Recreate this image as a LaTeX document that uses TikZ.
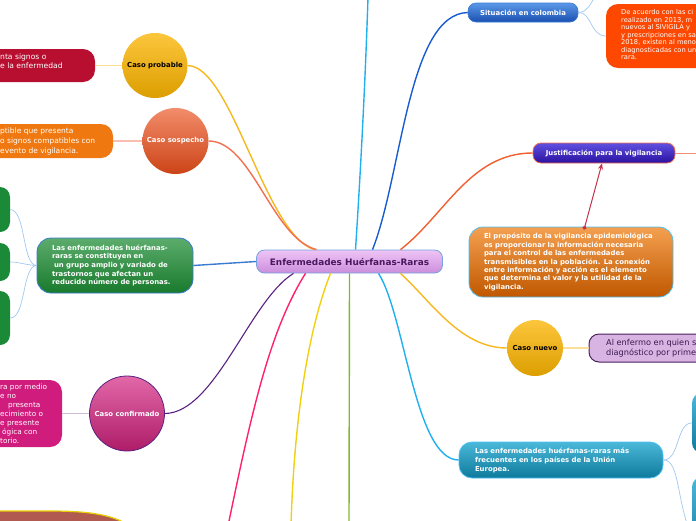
\documentclass[tikz,border=0pt]{standalone}
\usepackage{fontspec}
\setmainfont{DejaVu Sans}
\usetikzlibrary{arrows.meta}
\definecolor{cgold}{HTML}{F5B820}
\definecolor{ccoral}{HTML}{F07050}
\definecolor{ccyan}{HTML}{20B0F0}
\definecolor{cblue}{HTML}{1A5CD0}
\definecolor{cblue2}{HTML}{3A7AD0}
\definecolor{cred}{HTML}{F06030}
\definecolor{cpurple}{HTML}{5A2080}
\definecolor{cpink}{HTML}{FF2070}
\definecolor{cyellow}{HTML}{F0D010}
\definecolor{cgreen}{HTML}{80B830}
\definecolor{csub}{HTML}{A0C8F0}
\definecolor{ctitle}{HTML}{4A1860}
\definecolor{clavtxt}{HTML}{3A1A50}
\definecolor{carrow}{HTML}{C8304A}
\definecolor{ctitletop}{HTML}{EEC4F6}
\definecolor{ctitlebot}{HTML}{CC8EDC}
\definecolor{cgoldtop}{HTML}{FCC63C}
\definecolor{cgoldbot}{HTML}{DC9E00}
\definecolor{csosptop}{HTML}{F28C6A}
\definecolor{csospbot}{HTML}{CC4418}
\definecolor{cconftop}{HTML}{E268A8}
\definecolor{cconfbot}{HTML}{AE1C68}
\definecolor{cgrtop}{HTML}{5CAC6C}
\definecolor{cgrbot}{HTML}{187A2C}
\definecolor{csittop}{HTML}{5A98E8}
\definecolor{csitbot}{HTML}{1A4FB0}
\definecolor{cjtop}{HTML}{6050E0}
\definecolor{cjbot}{HTML}{2A10A0}
\definecolor{cortop}{HTML}{F4A050}
\definecolor{corbot}{HTML}{C05800}
\definecolor{cteatop}{HTML}{4AB8D8}
\definecolor{cteabot}{HTML}{0E7A9C}
\definecolor{ccrim}{HTML}{B80E30}
\definecolor{corange}{HTML}{F07810}
\definecolor{cmag}{HTML}{D01C7C}
\definecolor{csitor}{HTML}{FE4800}
\definecolor{clav}{HTML}{D8B4E2}
\definecolor{clavbd}{HTML}{4A2060}
\definecolor{cdkgreen}{HTML}{1A8A38}
\definecolor{cbrown}{HTML}{B05A50}
\definecolor{cbrownbd}{HTML}{E8D000}
\newcommand{\myfb}{\fontsize{6.9}{8.7}\selectfont\bfseries}
\begin{document}
\begin{tikzpicture}[x=1pt,y=-1pt,
  lk/.style={line width=1.4pt},
  sublk/.style={line width=0.7pt, draw=csub},
  rbox/.style={rectangle, inner sep=0pt},
  bubble/.style={circle, inner sep=0pt, font=\myfb},
  txt/.style={inner sep=0pt, align=left, anchor=west}]
\useasboundingbox (0,0) rectangle (696,520);
\clip (0,0) rectangle (696,520);

% ---------- clipped side boxes ----------
\node[rbox, minimum width=155, minimum height=33, rounded corners=12pt, fill=ccrim] (prr) at (17.5,65.5) {};
\node[txt, text=white, font=\fontsize{7.6}{9}\selectfont] (prrt) at (0,61.5) {nta signos o\\e la enfermedad};

\node[rbox, minimum width=173, minimum height=34, rounded corners=12pt, fill=corange] (sor) at (26.5,141) {};
\node[txt, text=white, font=\fontsize{7.5}{10}\selectfont] (sort) at (0,141) {ptible que presenta\\o signos compatibles con\\evento de vigilancia.};

\node[rbox, minimum width=122, minimum height=67, rounded corners=12pt, fill=cmag] (cor) at (1,413.5) {};
\node[txt, text=white, font=\fontsize{7.3}{9}\selectfont] (cort) at (0,414) {ra por medio\\e no\\\hspace*{8pt}presenta\\ecimiento o\\e presente\\\hspace*{2pt}ógica con\\torio.};

\node[rbox, minimum width=70, minimum height=45, rounded corners=10pt, fill=cdkgreen] (gc1) at (-25,209.5) {};
\node[rbox, minimum width=70, minimum height=38, rounded corners=10pt, fill=cdkgreen] (gc2) at (-25,262) {};
\node[rbox, minimum width=70, minimum height=54, rounded corners=10pt, fill=cdkgreen] (gc3) at (-25,318) {};

\node[rbox, minimum width=154, minimum height=64, rounded corners=12pt, fill=csitor] (sitr) at (683,36) {};
\node[txt, text=white, font=\fontsize{6.7}{7.5}\selectfont] (sitrt) at (621,34.5) {De acuerdo con las ci\\realizado en 2013, m\\nuevos al SIVIGILA y\\y prescripciones en sa\\2018, existen al meno\\diagnosticadas con un\\rara.};

\node[rbox, minimum width=171, minimum height=28, rounded corners=10pt, fill=clav, draw=clavbd, line width=1pt] (lavr) at (674.5,348) {};
\node[txt, text=clavtxt, font=\fontsize{8.2}{10}\selectfont] (lavrt) at (606,348) {Al enfermo en quien s\\diagnóstico por prime};

\node[rbox, minimum width=68, minimum height=60, rounded corners=10pt, top color=cteatop, bottom color=cteabot] (tc1) at (726,423) {};
\node[rbox, minimum width=68, minimum height=83, rounded corners=10pt, top color=cteatop, bottom color=cteabot] (tc2) at (726,518.5) {};

% bottom-left brown node (top edge only visible)
\draw[draw=cbrownbd, line width=1.2pt, fill=cbrown] (-10,511) -- (50,511) .. controls (90,511) and (110,515) .. (125,523) -- (125,535) -- (-10,535) -- cycle;

% ---------- main nodes ----------
\node[rbox, minimum width=186, minimum height=23, rounded corners=8pt,
  top color=ctitletop, bottom color=ctitlebot, draw=cblue2!70!white, line width=0.8pt,
  font=\fontsize{8.9}{10}\selectfont\bfseries, text=ctitle] (c) at (349.5,261.5) {Enfermedades Huérfanas-Raras};

\node[bubble, minimum size=65, top color=cgoldtop, bottom color=cgoldbot, text=black] (prob) at (155,65.5) {Caso probable};
\node[bubble, minimum size=66, top color=csosptop, bottom color=csospbot, text=white] (sosp) at (175.5,141) {Caso sospecho};
\node[bubble, minimum size=75, top color=cconftop, bottom color=cconfbot, draw=cpurple, line width=0.8pt, text=white] (conf) at (127,413.5) {Caso confirmado};
\node[bubble, minimum size=56, top color=cgoldtop, bottom color=cgoldbot, text=black] (nuevo) at (535,348) {Caso nuevo};

\node[rbox, rounded corners=14pt, minimum height=55, text width=126, inner xsep=15pt, align=left,
  top color=cgrtop, bottom color=cgrbot, draw=cblue2, line width=0.8pt, text=white, font=\myfb] (green) at (115,265.5)
  {Las enfermedades huérfanas-\\raras se constituyen en\\\hspace*{2pt}un grupo amplio y variado de\\trastornos que afectan un\\reducido número de personas.};

\node[rbox, minimum width=110, minimum height=19, rounded corners=8pt, top color=csittop, bottom color=csitbot,
  draw=cblue2, line width=0.6pt, text=white, font=\myfb] (sit) at (523,12.5) {Situación en colombia};

\node[rbox, minimum width=142, minimum height=20, rounded corners=8pt, top color=cjtop, bottom color=cjbot,
  draw=ccoral, line width=0.8pt, text=white, font=\myfb] (just) at (604,153) {Justificación para la vigilancia};

\node[rbox, rounded corners=14pt, minimum height=70, text width=174, inner xsep=15pt, align=left,
  top color=cortop, bottom color=corbot, draw=ccyan!80!white, line width=0.8pt, text=white,
  font=\fontsize{6.9}{8.35}\selectfont\bfseries] (orng) at (571,262)
  {El propósito de la vigilancia epidemiológica\\es proporcionar la información necesaria\\para el control de las enfermedades\\transmisibles en la población. La conexión\\entre información y acción es el elemento\\que determina el valor y la utilidad de la\\vigilancia.};

\node[rbox, rounded corners=13pt, minimum height=36, text width=172, inner xsep=16pt, align=left,
  top color=cteatop, bottom color=cteabot, draw=ccyan!80!white, line width=0.8pt, text=white,
  font=\fontsize{6.9}{9}\selectfont\bfseries] (teal) at (561,460)
  {Las enfermedades huérfanas-raras más\\frecuentes en los países de la Unión\\Europea.};

% free ends
\coordinate (topend) at (368,-3);
\coordinate (pinkend) at (228,526);
\coordinate (yelend) at (291,526);
\coordinate (greenend) at (349,526);
\coordinate (situp) at (595,-3);
\coordinate (justend) at (698,153);

% ---------- connectors ----------
\draw[lk, cgold] (prob.east) .. controls (232,66) and (265,235) .. ([xshift=-35pt]c.north);
\draw[lk, ccoral] (sosp.east) .. controls (252,141) and (272,238) .. ([xshift=-33pt]c.north);
\draw[lk, ccyan] ([xshift=6pt]c.north) .. controls (362,150) and (366,60) .. (topend);
\draw[lk, cblue] ([xshift=23pt]c.north) .. controls (402,175) and (408,14) .. (sit.west);
\draw[lk, cred] ([xshift=51pt]c.north) .. controls (445,215) and (470,153) .. (just.west);
\draw[lk, cblue2] (c.west) -- (green.east);
\draw[line width=1.1pt, cpurple] ([xshift=-56pt]c.south) .. controls (250,300) and (215,413) .. (conf.east);
\draw[lk, cpink] ([xshift=-44pt]c.south) .. controls (270,330) and (252,410) .. (pinkend);
\draw[lk, cyellow] ([xshift=-19pt]c.south) .. controls (308,330) and (294,420) .. (yelend);
\draw[lk, cgreen] (c.south) -- (greenend);
\draw[lk, ccyan] ([xshift=29pt]c.south) .. controls (405,315) and (415,460) .. (teal.west);
\draw[lk, cgold] ([xshift=51pt]c.south) .. controls (430,300) and (460,348) .. (nuevo.west);

\draw[line width=1.3pt, cgold!45!white] (prob.west) -- (prr.east);
\draw[line width=1.3pt, ccoral!45!white] (sosp.west) -- (sor.east);
\draw[line width=1.3pt, cpurple!30!white] (conf.west) -- (cor.east);
\draw[line width=1.3pt, cgold!45!white] (nuevo.east) -- (lavr.west);
\draw[line width=1pt, ccoral!80!white] (just.east) -- (justend);

\draw[sublk] (green.west) .. controls (22,265) and (26,210) .. (gc1.east);
\draw[sublk] (green.west) .. controls (25,265) and (20,262) .. (gc2.east);
\draw[sublk] (green.west) .. controls (22,266) and (26,318) .. (gc3.east);
\draw[sublk] (teal.east) .. controls (680,460) and (676,423) .. (tc1.west);
\draw[sublk] (teal.east) .. controls (680,460) and (676,500) .. ([yshift=-18pt]tc2.west);
\draw[sublk] (sit.east) .. controls (588,12) and (590,4) .. (situp);
\draw[sublk] (sit.east) .. controls (592,12) and (590,36) .. (sitr.west);

\draw[line width=1pt, carrow, {Circle[length=4pt]}-{Stealth[length=6pt,width=5pt]}]
  ([xshift=13pt,yshift=-3pt]orng.north) -- ([xshift=-2pt]just.south);
\end{tikzpicture}
\end{document}
